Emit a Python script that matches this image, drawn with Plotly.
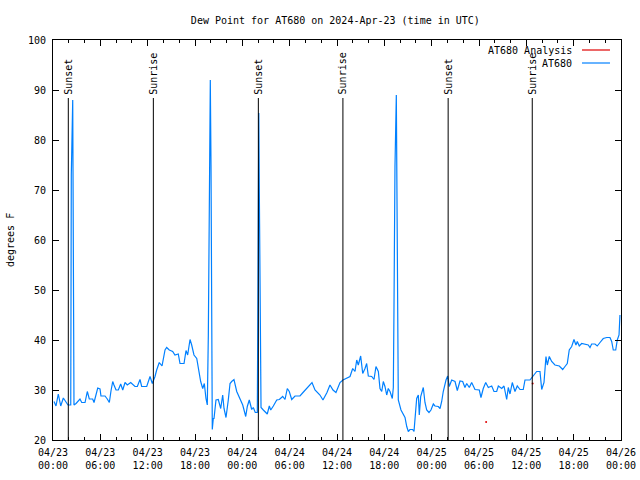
import pandas as pd
import plotly.graph_objects as go

START = pd.Timestamp("2024-04-23 00:00")

# AT680 observed dew point: hours since 2024-04-23 00:00 UTC, degrees F
obs_hours = [
    0.13, 0.38, 0.67, 0.98, 1.31, 1.61, 1.90, 2.25, 2.32, 2.50, 2.58, 2.66,
    2.92, 3.42, 3.64, 4.06, 4.35, 4.60, 5.03, 5.20, 5.67, 5.96, 6.08, 6.59,
    6.88, 7.14, 7.35, 7.57, 7.73, 7.99, 8.28, 8.58, 8.84, 9.13, 9.42, 9.85,
    10.39, 10.69, 11.03, 11.24, 11.88, 12.30, 12.59, 12.93, 13.14, 13.47, 13.82,
    14.20, 14.41, 14.74, 15.17, 15.46, 15.88, 16.10, 16.61, 16.86, 17.07, 17.37,
    17.58, 17.87, 18.22, 18.42, 18.72, 18.98, 19.18, 19.39, 19.56,
    19.69, 19.81, 19.94, 20.03, 20.12, 20.19,
    20.32, 20.41, 20.66, 20.95, 21.26, 21.51, 21.68, 21.93, 22.22, 22.44, 22.65,
    22.94, 23.29, 23.70, 24.05, 24.43, 24.63, 24.88, 25.19, 25.39, 25.64, 25.90,
    25.96, 26.02, 26.09, 26.15, 26.28, 26.37,
    26.66, 27.16, 27.42, 27.60, 27.93, 28.36, 28.69, 29.12, 29.41, 29.70, 29.95,
    30.26, 30.68, 31.31, 31.69, 32.20, 32.83, 33.21, 33.84, 34.22, 34.73, 35.11,
    35.49, 35.87, 36.38, 36.76, 37.27,
    37.65, 37.99, 38.28, 38.50, 38.70, 39.00, 39.26, 39.55, 39.76, 39.97, 40.40,
    40.69, 40.94, 41.24, 41.45, 41.67, 41.87, 42.08, 42.30, 42.50, 42.72, 43.01,
    43.14, 43.22, 43.35, 43.52, 43.60, 43.69, 43.77,
    44.11, 44.40, 44.62, 44.84, 45.04, 45.25, 45.59, 45.76, 45.98, 46.10, 46.31,
    46.43, 46.61, 46.81, 46.94, 47.15, 47.37, 47.66, 47.91, 48.21, 48.42, 48.84,
    49.06, 49.27, 49.47, 49.82, 50.03, 50.23, 50.54, 50.96, 51.25, 51.59, 51.93,
    52.22, 52.44, 52.77, 53.07, 53.49, 54.04, 54.25, 54.54, 54.85, 55.18, 55.61,
    55.90, 56.24, 56.45, 56.88, 57.17, 57.51, 57.71, 57.93, 58.22, 58.56, 58.85,
    59.20, 59.61, 59.83, 60.46, 60.81, 61.31, 61.73, 61.95, 62.24, 62.49, 62.66,
    62.91, 63.21, 63.63, 64.18, 64.61, 64.90, 65.19, 65.44, 65.75, 66.04, 66.29,
    66.46, 66.71, 67.02, 67.43, 67.85, 68.07, 68.28, 68.70, 68.99, 69.34, 69.75,
    70.19, 70.60, 70.82, 71.02, 71.33, 71.53, 71.75, 71.87,
]
obs_dewpoint = [
    27.7, 26.8, 29.2, 26.8, 28.4, 27.7, 27.0, 27.0, 73.0, 88.0, 42.0, 27.0,
    27.3, 28.2, 27.5, 27.5, 29.7, 28.2, 28.2, 27.5, 30.4, 30.2, 28.8, 28.8,
    28.2, 27.5, 29.8, 31.7, 31.0, 30.0, 30.0, 31.2, 30.0, 31.5, 31.0, 31.5,
    30.7, 30.7, 32.1, 30.7, 30.7, 32.7, 31.3, 32.7, 34.0, 35.5, 34.8,
    38.0, 38.5, 38.0, 37.7, 37.0, 37.2, 35.3, 35.3, 37.9, 37.0, 40.1,
    39.0, 37.0, 36.3, 34.3, 31.7, 30.3, 31.3, 28.3, 27.0,
    41.0, 76.0, 92.0, 75.0, 40.0, 22.1,
    24.3, 24.3, 28.0, 28.1, 26.3, 29.0, 26.3, 24.5, 28.0, 31.3, 31.7,
    32.1, 29.7, 28.3, 27.0, 24.7, 26.7, 28.0, 26.1, 26.5, 25.5, 25.5,
    42.0, 70.0, 85.4, 70.6, 41.4, 26.5,
    26.0, 25.2, 26.8, 26.0, 26.8, 28.0, 28.1, 28.7, 28.1, 30.3, 29.7,
    28.1, 28.8, 28.8, 29.5, 30.5, 31.5, 30.0, 29.0, 28.0, 29.5, 31.0,
    30.0, 29.5, 31.5, 32.0, 32.5,
    32.7, 34.3, 33.7, 36.0, 35.0, 36.8, 33.3, 34.3, 35.3, 32.8, 32.7,
    32.1, 34.7, 33.7, 30.3, 29.7, 31.7, 30.7, 29.0, 30.3, 29.7, 28.3,
    30.5, 45.7, 74.7, 89.0, 74.0, 43.7, 28.0,
    26.0, 25.0, 24.5, 22.7, 21.7, 22.1, 22.1, 21.7, 26.0, 28.3, 29.0,
    25.0, 28.7, 30.1, 30.5, 27.5, 26.0, 25.5, 26.0, 27.2, 26.8, 26.7,
    26.3, 27.7, 29.7, 32.0, 32.8, 30.7, 32.0, 31.7, 29.9, 31.8, 31.7,
    30.5, 31.3, 30.5, 31.5, 30.1, 30.0, 28.5, 30.3, 31.5, 30.5, 30.8,
    29.7, 29.7, 30.8, 30.3, 30.8, 28.1, 30.5, 29.2, 31.5, 29.7, 30.8,
    30.1, 30.1, 32.0, 32.0, 32.7, 33.7, 33.7, 30.1, 31.5, 36.7, 35.0,
    36.7, 35.7, 35.0, 34.8, 34.1, 34.7, 35.3, 38.0, 38.7, 40.1, 39.0,
    39.7, 38.8, 39.3, 39.1, 39.0, 38.5, 39.2, 39.2, 38.8, 39.5, 40.3,
    40.5, 40.5, 39.7, 38.0, 38.0, 40.0, 41.0, 45.0,
]

# AT680 Analysis (only isolated points visible)
ana_hours = [54.9, 60.8]
ana_dewpoint = [23.6, 31.3]

# Sunset / sunrise events (hours since start)
event_hours = [1.94, 12.72, 26.03, 36.75, 50.09, 60.75]
event_labels = ["Sunset", "Sunrise", "Sunset", "Sunrise", "Sunset", "Sunrise"]

Y_MIN, Y_MAX = 20, 100
EVENT_TOP = 88.4

FONT = "DejaVu Sans Mono"
BLUE = "#0080ff"
RED = "#e00000"


def to_time(hours):
    return [START + pd.Timedelta(hours=h) for h in hours]


fig = go.Figure()

fig.add_trace(go.Scatter(
    x=to_time(ana_hours), y=ana_dewpoint, mode="markers",
    marker=dict(color=RED, size=2), name="AT680 Analysis", showlegend=False,
))
fig.add_trace(go.Scatter(
    x=to_time(obs_hours), y=obs_dewpoint, mode="lines",
    line=dict(color=BLUE, width=1.2), name="AT680", showlegend=False,
))

for t, lab in zip(to_time(event_hours), event_labels):
    fig.add_shape(type="line", x0=t, x1=t, y0=Y_MIN, y1=EVENT_TOP,
                  xref="x", yref="y", line=dict(color="black", width=1))
    fig.add_annotation(x=t, y=EVENT_TOP + 0.3, xref="x", yref="y", text=lab,
                       textangle=-90, showarrow=False, xanchor="center",
                       yanchor="bottom", font=dict(family=FONT, size=10, color="black"))

# gnuplot-style legend (text left, sample right)
legend_items = [("AT680 Analysis", RED, 0.975), ("AT680", BLUE, 0.9425)]
for name, col, yp in legend_items:
    fig.add_annotation(x=0.9173, y=yp, xref="paper", yref="paper", text=name,
                       showarrow=False, xanchor="right", yanchor="middle",
                       font=dict(family=FONT, size=10, color="black"))
    fig.add_shape(type="line", x0=0.9313, x1=0.9806, y0=yp, y1=yp,
                  xref="paper", yref="paper", line=dict(color=col, width=1.2))

# y-axis title
fig.add_annotation(x=-0.0757, y=0.5, xref="paper", yref="paper", text="degrees F",
                   textangle=-90, showarrow=False, xanchor="center", yanchor="middle",
                   font=dict(family=FONT, size=10, color="black"))

fig.update_layout(
    width=640, height=480,
    margin=dict(l=53, r=19, t=40, b=40, autoexpand=False),
    paper_bgcolor="white", plot_bgcolor="white",
    font=dict(family=FONT, size=10, color="black"),
    title=dict(text="Dew Point for AT680 on 2024-Apr-23 (time in UTC)",
               x=0.524, xanchor="center", y=0.958, yanchor="middle",
               xref="container", yref="container",
               font=dict(family=FONT, size=10, color="black")),
    showlegend=False,
)

fig.update_xaxes(
    type="date", automargin=False,
    range=[START, START + pd.Timedelta(hours=72)],
    tick0=START, dtick=6 * 3600 * 1000,
    tickformat="%m/%d<br>%H:%M",
    ticks="inside", ticklen=6, tickcolor="black", tickwidth=1,
    ticklabelstandoff=3,
    minor=dict(dtick=2 * 3600 * 1000, ticks="inside", ticklen=3,
               tickcolor="black", tickwidth=1, showgrid=False),
    showline=True, linecolor="black", linewidth=1, mirror="ticks",
    showgrid=False, zeroline=False,
    tickfont=dict(family=FONT, size=10, color="black"),
)
fig.update_yaxes(
    range=[Y_MIN, Y_MAX], dtick=10, tick0=0, automargin=False,
    ticks="inside", ticklen=6, tickcolor="black", tickwidth=1,
    ticklabelstandoff=4,
    showline=True, linecolor="black", linewidth=1, mirror="ticks",
    showgrid=False, zeroline=False,
    tickfont=dict(family=FONT, size=10, color="black"),
)

fig.write_html("out.html")
